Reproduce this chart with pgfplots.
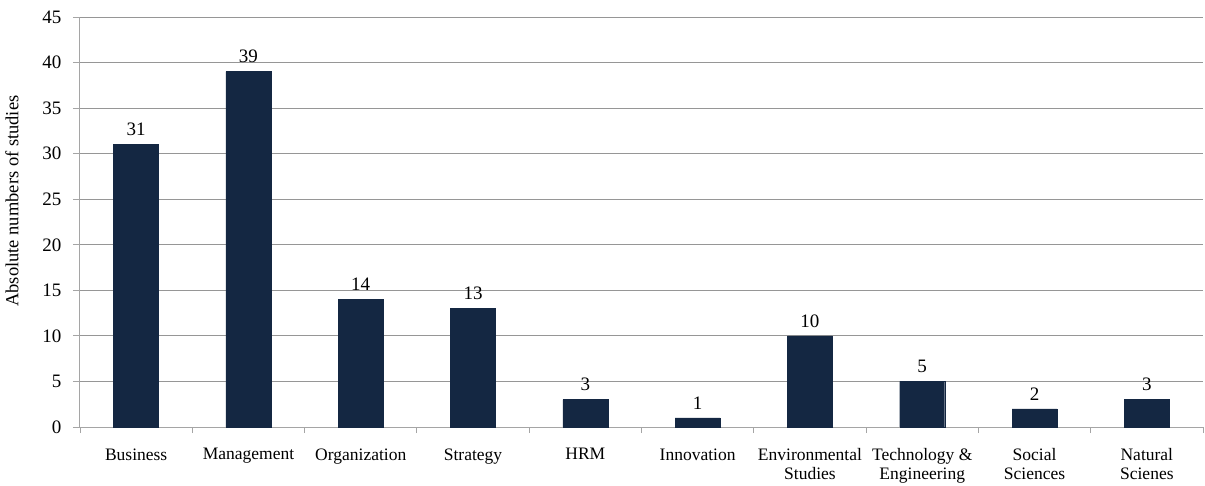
\documentclass[border=0pt]{standalone}
\usepackage{pgfplots}
\pgfplotsset{compat=1.18}
\usepackage{fontspec}
\setmainfont{Liberation Serif}
\definecolor{barblue}{RGB}{20,39,66}
\definecolor{gridgray}{RGB}{150,150,150}
\definecolor{axisgray}{RGB}{165,165,165}
\begin{document}
\begin{tikzpicture}
\begin{axis}[
  scale only axis,
  width=1123pt, height=410pt,
  xmin=0.5, xmax=10.5,
  ymin=0, ymax=45,
  ytick={0,5,...,45},
  xtick={1,...,10},
  xticklabels={Business, Management, Organization, Strategy, HRM, Innovation, {Environmental\\Studies}, {Technology \&\\Engineering}, {Social\\Sciences}, {Natural\\Scienes}},
  minor xtick={0.5,1.5,...,10.5},
  major x tick style={draw=none},
  minor x tick style={draw=axisgray, line width=0.8pt},
  y tick style={draw=axisgray, line width=0.8pt},
  tick align=outside,
  minor tick length=6pt,
  major tick length=7pt,
  ymajorgrids,
  grid style={gridgray, line width=0.8pt},
  axis x line*=bottom,
  axis y line*=left,
  axis line style={axisgray, line width=1pt, -},
  xticklabel style={align=center, font=\fontsize{17.5}{18.5}\selectfont, yshift=-11pt},
  yticklabel style={font=\fontsize{19}{21}\selectfont, xshift=-8pt},
  ylabel={Absolute numbers of studies},
  every axis y label/.style={at={(rel axis cs:0,0.551)}, xshift=-68pt, rotate=90, anchor=center, font=\fontsize{18.5}{20}\selectfont},
  /pgf/number format/assume math mode=true,
  ybar,
  bar width=45pt,
  nodes near coords,
  every node near coord/.append style={font=\fontsize{19}{21}\selectfont, black, yshift=5pt},
  clip=false,
]
\addplot[fill=barblue, draw=barblue] coordinates {
(1,31) (2,39) (3,14) (4,13) (5,3) (6,1) (7,10) (8,5) (9,2) (10,3)
};
\end{axis}
\pgfresetboundingbox
\path (-80pt,-58pt) rectangle (1125pt,427pt);
\end{tikzpicture}
\end{document}
